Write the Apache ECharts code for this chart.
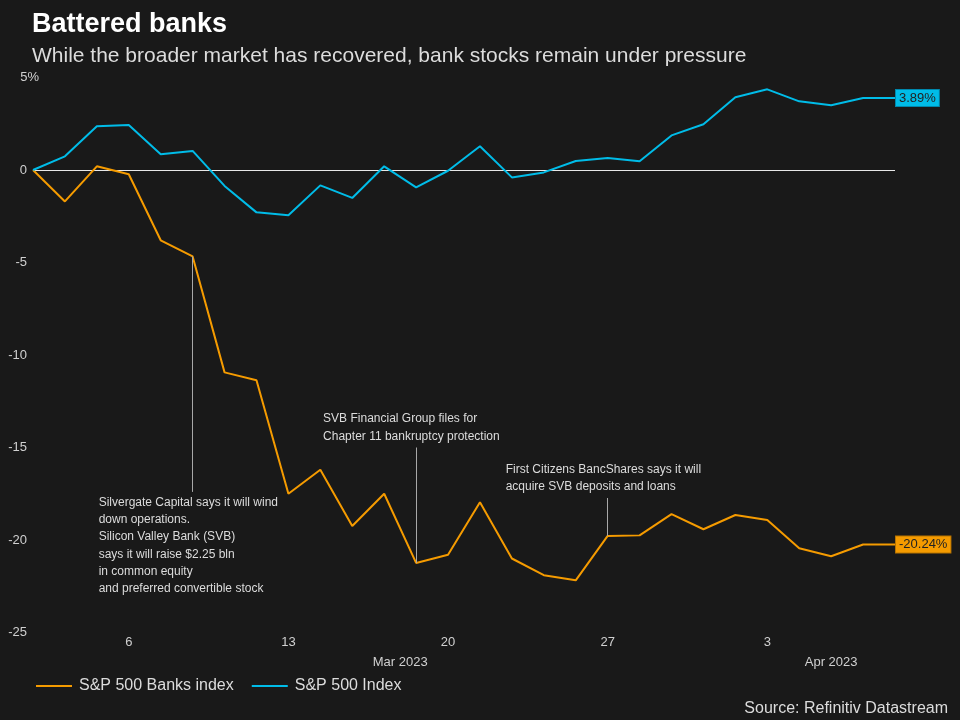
<!DOCTYPE html>
<html><head><meta charset="utf-8">
<script src="https://cdn.jsdelivr.net/npm/echarts@6/dist/echarts.min.js"></script>
<style>html,body{margin:0;padding:0;background:#191919}#c{width:960px;height:720px}</style>
</head><body><div id="c"></div>
<script>
var categories = ['Mar 1','Mar 2','Mar 3','Mar 6','Mar 7','Mar 8','Mar 9','Mar 10','Mar 13','Mar 14','Mar 15','Mar 16','Mar 17','Mar 20','Mar 21','Mar 22','Mar 23','Mar 24','Mar 27','Mar 28','Mar 29','Mar 30','Mar 31','Apr 3','Apr 4','Apr 5','Apr 6','Apr 7'];
var banks = [0,-1.7,0.2,-0.23,-3.8,-4.67,-10.94,-11.37,-17.5,-16.2,-19.24,-17.5,-21.24,-20.8,-17.96,-21.0,-21.9,-22.18,-19.78,-19.75,-18.6,-19.42,-18.65,-18.92,-20.45,-20.88,-20.24,-20.24];
var sp500 = [0,0.74,2.36,2.43,0.85,1.03,-0.86,-2.29,-2.45,-0.83,-1.51,0.2,-0.94,-0.04,1.28,-0.4,-0.13,0.49,0.65,0.47,1.87,2.47,3.93,4.36,3.71,3.5,3.89,3.89];
var tickLabels = ['Mar 6','Mar 13','Mar 20','Mar 27','Apr 3'];
var monthLabels = {'Mar 16':'Mar 2023','Apr 5':'Apr 2023'};
var seriesNames = ['S&P 500 Banks index','S&P 500 Index'];
var annotations = [
  {cat:'Mar 8', from:-4.67, to:-17.4, text:'Silvergate Capital says it will wind\ndown operations.\nSilicon Valley Bank (SVB)\nsays it will raise $2.25 bln\nin common equity\nand preferred convertible stock', dx:-94, dy:2},
  {cat:'Mar 17', from:-21.24, to:-15.0, text:'SVB Financial Group files for\nChapter 11 bankruptcy protection', dx:-93, dy:-37},
  {cat:'Mar 27', from:-19.78, to:-17.73, text:'First Citizens BancShares says it will\nacquire SVB deposits and loans', dx:-102, dy:-37}
];
var ORANGE = '#f59b00', BLUE = '#00bce8';
var FONT = '"Liberation Sans", Arial, sans-serif';
var chart = echarts.init(document.getElementById('c'));
var option = {
  backgroundColor:'#191919',
  animation:false,
  textStyle:{fontFamily:FONT},
  title:[
    {text:'Battered banks', left:32, top:11, padding:0, textStyle:{color:'#fff', fontSize:27, fontWeight:'bold', fontFamily:FONT}},
    {text:'While the broader market has recovered, bank stocks remain under pressure', left:32, top:46, padding:0, textStyle:{color:'#dcdcdc', fontSize:21, fontWeight:'normal', fontFamily:FONT}},
    {text:'Source: Refinitiv Datastream', right:12, top:701, padding:0, textStyle:{color:'#dcdcdc', fontSize:16, fontWeight:'normal', fontFamily:FONT}}
  ],
  legend:{
    left:36, top:678, padding:0, itemWidth:36, itemHeight:2, itemGap:18, icon:'rect',
    textStyle:{color:'#dcdcdc', fontSize:16, fontFamily:FONT, padding:[0,0,0,2]},
    data:seriesNames
  },
  grid:{left:33, right:65, top:77.5, bottom:87.5},
  xAxis:[
    {type:'category', data:categories, boundaryGap:false,
     axisLine:{show:false}, axisTick:{show:false}, splitLine:{show:false},
     axisLabel:{color:'#d0d0d0', fontSize:13, margin:3,
       interval:function(i,v){return tickLabels.indexOf(v)>=0;},
       formatter:function(v){return v.split(' ')[1];}}},
    {type:'category', data:categories, boundaryGap:false, position:'bottom', offset:20,
     axisLine:{show:false}, axisTick:{show:false}, splitLine:{show:false},
     axisLabel:{color:'#d0d0d0', fontSize:13, margin:3,
       interval:function(i,v){return monthLabels[v]!==undefined;},
       formatter:function(v){return v==='Mar 16'?'{s|'+monthLabels[v]+'}':monthLabels[v];},
       rich:{s:{color:'#d0d0d0', fontSize:13, padding:[0,0,0,32]}}}}
  ],
  yAxis:{type:'value', min:-25, max:5, interval:5,
    axisLine:{show:false}, axisTick:{show:false}, splitLine:{show:false},
    axisLabel:{color:'#d0d0d0', fontSize:13, margin:6, align:'right',
      formatter:function(v){return v===5?'{p|5%}':String(v);},
      rich:{p:{color:'#d0d0d0', fontSize:13, padding:[0,-12,0,0]}}}},
  series:[
    {name:seriesNames[0], type:'line', data:banks, symbol:'none', color:ORANGE,
     lineStyle:{width:2, color:ORANGE}, z:3,
     endLabel:{show:true, formatter:function(p){return p.value.toFixed(2)+'%';}, distance:1,
       backgroundColor:ORANGE, color:'#222', fontSize:13, padding:[2,3,1,3], borderColor:'#b87400', borderWidth:1},
     markLine:{silent:true, symbol:'none', label:{show:false},
       lineStyle:{color:'#a8a8a8', width:1, type:'solid'},
       data:annotations.map(function(a){return [{coord:[a.cat,a.from]},{coord:[a.cat,a.to]}];})}
    },
    {name:seriesNames[1], type:'line', data:sp500, symbol:'none', color:BLUE,
     lineStyle:{width:2, color:BLUE}, z:3,
     endLabel:{show:true, formatter:function(p){return p.value.toFixed(2)+'%';}, distance:1,
       backgroundColor:BLUE, color:'#222', fontSize:13, padding:[2,3,1,3], borderColor:'#0088ad', borderWidth:1},
     markLine:{silent:true, symbol:'none', label:{show:false},
       lineStyle:{color:'#e8e8e8', width:1, type:'solid'}, z:1,
       data:[{yAxis:0}]}
    }
  ]
};
chart.setOption(option);
var g = annotations.map(function(a){
  var anchor = chart.convertToPixel({xAxisIndex:0, yAxisIndex:0},[a.cat, a.to]);
  return {type:'text', x:anchor[0]+a.dx, y:anchor[1]+a.dy,
    style:{text:a.text, fill:'#dcdcdc', font:'12px '+FONT, lineHeight:17.3, verticalAlign:'top', align:'left'}};
});
chart.setOption({graphic:g});
</script></body></html>
